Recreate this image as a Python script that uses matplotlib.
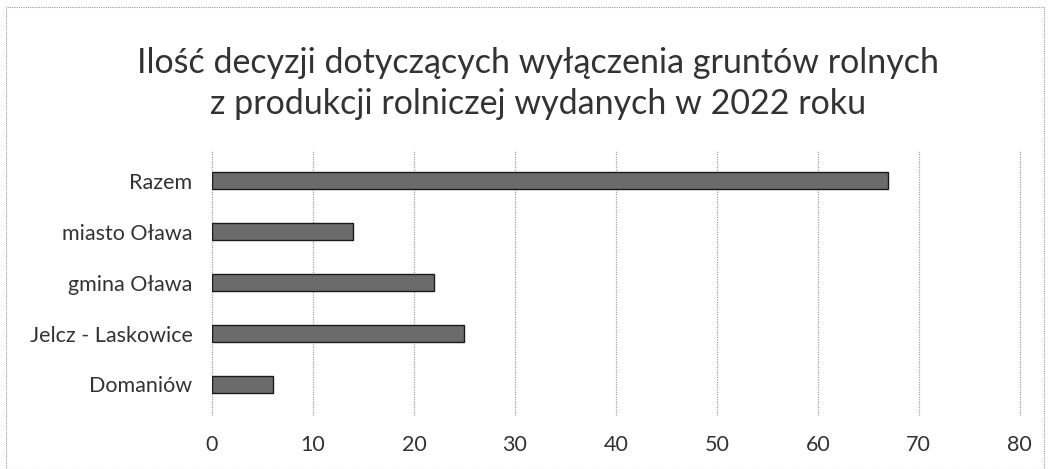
import matplotlib.pyplot as plt
from matplotlib.patches import Rectangle

# data
categories = ["Domaniów", "Jelcz - Laskowice", "gmina Oława", "miasto Oława", "Razem"]
values = [6, 25, 22, 14, 67]
xticks = [0, 10, 20, 30, 40, 50, 60, 70, 80]

plt.rcParams['font.family'] = ['Lato', 'DejaVu Sans']

fig = plt.figure(figsize=(10.48, 4.69), dpi=100)
ax = fig.add_axes([0.2023, 0.115, 0.7707, 0.565])

ax.barh(range(len(categories)), values, height=0.33, color='#6b6b6b',
        edgecolor='#1a1a1a', linewidth=1, zorder=3)

ax.set_xlim(0, 80)
ax.set_ylim(-0.6, len(categories) - 0.4)
ax.set_xticks(xticks)
ax.set_yticks(range(len(categories)))
ax.set_yticklabels(categories)
ax.tick_params(axis='both', length=0, labelsize=15.5, colors='#333333')
ax.tick_params(axis='x', pad=14)
ax.tick_params(axis='y', pad=14)
ax.grid(axis='x', color='#a0a0a0', linewidth=0.9, linestyle=(0, (1, 1)), zorder=0)
for gl in ax.get_xgridlines():
    gl.set_clip_on(False)
for s in ax.spines.values():
    s.set_visible(False)

fig.text(0.513, 0.865, "Ilość decyzji dotyczących wyłączenia gruntów rolnych",
         ha='center', va='center', fontsize=24.5, color='#333333')
fig.text(0.513, 0.778, "z produkcji rolniczej wydanych w 2022 roku",
         ha='center', va='center', fontsize=24.5, color='#333333')

# light dashed frame around the chart area
fig.patches.append(Rectangle((0.006, 0.0), 0.99, 0.985, transform=fig.transFigure,
                             fill=False, edgecolor='#999999', linewidth=0.8,
                             linestyle=(0, (1, 1))))

fig.savefig("out.png", dpi=100)
